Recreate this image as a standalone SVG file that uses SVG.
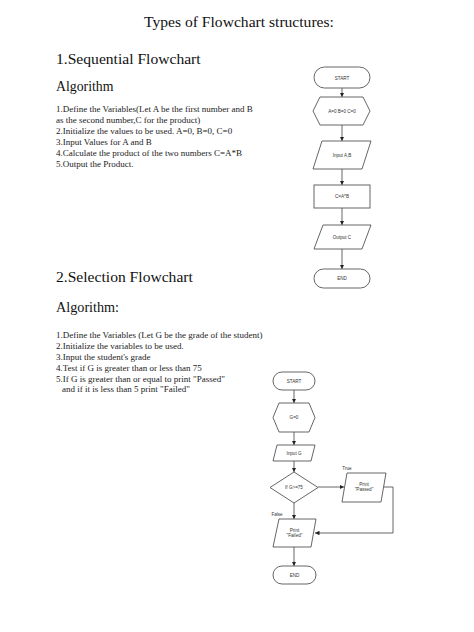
<svg xmlns="http://www.w3.org/2000/svg" width="474" height="632" viewBox="0 0 474 632">
<style>
.h{font-family:"Liberation Serif","Times New Roman",serif;fill:#111}
.t{font-family:"Liberation Serif","Times New Roman",serif;font-size:9px;fill:#222}
.s{fill:#fff;stroke:#555;stroke-width:0.9}
.l{fill:none;stroke:#555;stroke-width:0.9}
.n{font-family:"Liberation Sans",Arial,sans-serif;font-size:4.6px;fill:#333;text-anchor:middle}
</style>
<defs>
<marker id="ah" viewBox="0 0 6 6" refX="6" refY="3" markerWidth="5" markerHeight="5" orient="auto">
<path d="M0,0 L6,3 L0,6 z" fill="#222"/>
</marker>
</defs>
<rect width="474" height="632" fill="#fff"/>
<text class="h" x="239" y="27" font-size="15.6" text-anchor="middle">Types of Flowchart structures:</text>
<text class="h" x="56" y="64" font-size="15.6">1.Sequential Flowchart</text>
<text class="h" x="56" y="91" font-size="13.8">Algorithm</text>
<g id="seq-algo">
<text class="t" x="56" y="112">1.Define the Variables(Let A be the first number and B</text>
<text class="t" x="56" y="123">as the second number,C for the product)</text>
<text class="t" x="56" y="134">2.Initialize the values to be used. A=0, B=0, C=0</text>
<text class="t" x="56" y="145">3.Input Values for A and B</text>
<text class="t" x="56" y="156">4.Calculate the product of the two numbers C=A*B</text>
<text class="t" x="56" y="167">5.Output the Product.</text>
</g>
<text class="h" x="56" y="282" font-size="15.6">2.Selection Flowchart</text>
<text class="h" x="56" y="312" font-size="14.2">Algorithm:</text>
<g id="sel-algo">
<text class="t" x="56" y="338">1.Define the Variables (Let G be the grade of the student)</text>
<text class="t" x="56" y="349">2.Initialize the variables to be used.</text>
<text class="t" x="56" y="360">3.Input the student's grade</text>
<text class="t" x="56" y="371">4.Test if G is greater than or less than 75</text>
<text class="t" x="56" y="382">5.If G is greater than or equal to print "Passed"</text>
<text class="t" x="62" y="392">and if it is less than 5 print "Failed"</text>
</g>

<g id="connectors">
<line class="l" x1="342" y1="88" x2="342" y2="97" marker-end="url(#ah)"/>
<line class="l" x1="342" y1="125" x2="342" y2="141" marker-end="url(#ah)"/>
<line class="l" x1="342" y1="169" x2="342" y2="185" marker-end="url(#ah)"/>
<line class="l" x1="342" y1="208" x2="342" y2="225" marker-end="url(#ah)"/>
<line class="l" x1="342" y1="249" x2="342" y2="269" marker-end="url(#ah)"/>
<line class="l" x1="294" y1="390" x2="294" y2="403" marker-end="url(#ah)"/>
<line class="l" x1="294" y1="432" x2="294" y2="445" marker-end="url(#ah)"/>
<line class="l" x1="294" y1="461" x2="294" y2="472" marker-end="url(#ah)"/>
<line class="l" x1="318" y1="487" x2="344" y2="487" marker-end="url(#ah)"/>
<line class="l" x1="294" y1="503" x2="294" y2="519" marker-end="url(#ah)"/>
<polyline class="l" points="384,487 393,487 393,533 315,533" marker-end="url(#ah)"/>
<line class="l" x1="294" y1="547" x2="294" y2="566" marker-end="url(#ah)"/>
<text class="n" x="347" y="470" font-size="4">True</text>
<text class="n" x="277" y="516" font-size="4">False</text>
</g>

<g id="s-start"><rect class="s" x="314" y="67" width="56" height="21" rx="10.5"/><text class="n" x="342" y="79.5">START</text></g>
<g id="s-init"><polygon class="s" points="313,111 320,97 363,97 370,111 363,125 320,125"/><text class="n" x="342" y="112.5">A=0 B=0 C=0</text></g>
<g id="s-input"><polygon class="s" points="322,141 371,141 362,169 313,169"/><text class="n" x="342" y="156.5">Input A,B</text></g>
<g id="s-calc"><rect class="s" x="314" y="185" width="56" height="23"/><text class="n" x="342" y="198">C=A*B</text></g>
<g id="s-output"><polygon class="s" points="323,225 371,225 362,249 314,249"/><text class="n" x="342" y="238.5">Output C</text></g>
<g id="s-end"><rect class="s" x="314" y="269" width="56" height="19" rx="9.5"/><text class="n" x="342" y="280">END</text></g>

<g id="g-start"><rect class="s" x="273" y="372" width="42" height="18" rx="9"/><text class="n" x="294" y="382.5" font-size="3.8">START</text></g>
<g id="g-init"><polygon class="s" points="273,417.5 279,403 309,403 315,417.5 309,432 279,432"/><text class="n" x="294" y="419" font-size="3.8">G=0</text></g>
<g id="g-input"><polygon class="s" points="277,445 315,445 311,461 273,461"/><text class="n" x="294" y="454.5" font-size="3.8">Input G</text></g>
<g id="g-test"><polygon class="s" points="294,472 318,487.5 294,503 270,487.5"/><text class="n" x="294" y="489" font-size="3.8">If G&gt;=75</text></g>
<g id="g-passed"><polygon class="s" points="347,473 386,473 381,502 342,502"/><text class="n" x="364" y="486" font-size="3.8">Print</text><text class="n" x="364" y="491" font-size="3.8">"Passed"</text></g>
<g id="g-failed"><polygon class="s" points="279,519 316,519 311,547 273,547"/><text class="n" x="294.5" y="532" font-size="3.8">Print</text><text class="n" x="294.5" y="537" font-size="3.8">"Failed"</text></g>
<g id="g-end"><rect class="s" x="273" y="566" width="43" height="18" rx="9"/><text class="n" x="294.5" y="576.5" font-size="3.8">END</text></g>
</svg>
